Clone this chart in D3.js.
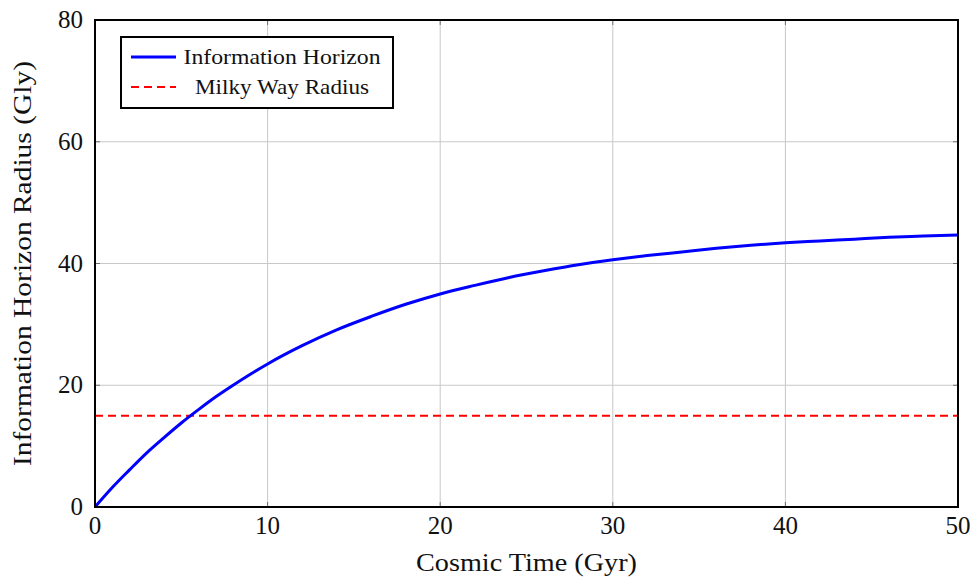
<!DOCTYPE html>
<html>
<head>
<meta charset="utf-8">
<script src="https://cdn.jsdelivr.net/npm/d3@7"></script>
<style>
  body { margin: 0; background: #fff; }
  text { font-family: "Liberation Serif", "DejaVu Serif", serif; fill: #111; }
</style>
</head>
<body>
<div id="chart"></div>
<script>
var width = 971, height = 578;
var margin = { top: 20, right: 13, bottom: 71, left: 95 };

// data
var timeGyr = [0, 1, 2, 3, 4, 5, 6, 7, 8, 9, 10, 12, 14, 16, 18, 20, 22, 24, 26, 28, 30, 32, 34, 36, 38, 40, 42, 44, 46, 48, 50];
var horizonGly = [0, 3.2, 6.1, 8.9, 11.4, 13.8, 16.0, 18.1, 20.0, 21.8, 23.5, 26.5, 29.1, 31.3, 33.3, 35.0, 36.4, 37.7, 38.8, 39.8, 40.6, 41.3, 41.9, 42.5, 43.0, 43.4, 43.7, 44.0, 44.3, 44.5, 44.7];
var milkyWayGly = 15;
var xTicks = [0, 10, 20, 30, 40, 50];
var yTicks = [0, 20, 40, 60, 80];
var legendLabels = ["Information Horizon", "Milky Way Radius"];
var legendWidths = [197, 174];

var w = width - margin.left - margin.right;
var h = height - margin.top - margin.bottom;

var svg = d3.select("#chart").append("svg")
  .attr("width", width)
  .attr("height", height);

var g = svg.append("g")
  .attr("transform", "translate(" + margin.left + "," + margin.top + ")");

var x = d3.scaleLinear().domain([0, 50]).range([0, w]);
var y = d3.scaleLinear().domain([0, 80]).range([h, 0]);

// grid
g.append("g").selectAll("line").data(xTicks).enter().append("line")
  .attr("x1", function(d) { return x(d); })
  .attr("x2", function(d) { return x(d); })
  .attr("y1", 0).attr("y2", h)
  .attr("stroke", "#c8c8c8").attr("stroke-width", 1);
g.append("g").selectAll("line").data(yTicks).enter().append("line")
  .attr("y1", function(d) { return y(d); })
  .attr("y2", function(d) { return y(d); })
  .attr("x1", 0).attr("x2", w)
  .attr("stroke", "#c8c8c8").attr("stroke-width", 1);

// inward ticks on all sides
var tk = 5;
var ticks = g.append("g").attr("stroke", "#707070").attr("stroke-width", 1);
xTicks.forEach(function(d) {
  ticks.append("line").attr("x1", x(d)).attr("x2", x(d)).attr("y1", h).attr("y2", h - tk);
  ticks.append("line").attr("x1", x(d)).attr("x2", x(d)).attr("y1", 0).attr("y2", tk);
});
yTicks.forEach(function(d) {
  ticks.append("line").attr("y1", y(d)).attr("y2", y(d)).attr("x1", 0).attr("x2", tk);
  ticks.append("line").attr("y1", y(d)).attr("y2", y(d)).attr("x1", w).attr("x2", w - tk);
});

// milky way line
g.append("line")
  .attr("x1", x(0)).attr("x2", x(50))
  .attr("y1", y(milkyWayGly)).attr("y2", y(milkyWayGly))
  .attr("stroke", "#ff0000").attr("stroke-width", 2)
  .attr("stroke-dasharray", "8,5");

// horizon curve
var line = d3.line()
  .x(function(d, i) { return x(timeGyr[i]); })
  .y(function(d) { return y(d); })
  .curve(d3.curveMonotoneX);

g.append("path")
  .datum(horizonGly)
  .attr("d", line)
  .attr("fill", "none")
  .attr("stroke", "#0000ff")
  .attr("stroke-width", 3);

// frame
g.append("rect")
  .attr("width", w).attr("height", h)
  .attr("fill", "none").attr("stroke", "#000").attr("stroke-width", 2);

// tick labels
g.append("g").selectAll("text").data(xTicks).enter().append("text")
  .attr("x", function(d) { return x(d); })
  .attr("y", h + 27)
  .attr("text-anchor", "middle")
  .attr("font-size", 25)
  .text(function(d) { return d; });
g.append("g").selectAll("text").data(yTicks).enter().append("text")
  .attr("x", -12)
  .attr("y", function(d) { return y(d) + 8; })
  .attr("text-anchor", "end")
  .attr("font-size", 25)
  .text(function(d) { return d; });

// axis titles
svg.append("text")
  .attr("x", margin.left + w / 2)
  .attr("y", 571)
  .attr("text-anchor", "middle")
  .attr("font-size", 26)
  .attr("textLength", 221)
  .attr("lengthAdjust", "spacingAndGlyphs")
  .text("Cosmic Time (Gyr)");
svg.append("text")
  .attr("transform", "translate(31," + (margin.top + h / 2) + ") rotate(-90)")
  .attr("text-anchor", "middle")
  .attr("font-size", 26)
  .attr("textLength", 405)
  .attr("lengthAdjust", "spacingAndGlyphs")
  .text("Information Horizon Radius (Gly)");

// legend
var lg = svg.append("g").attr("transform", "translate(121,37)");
lg.append("rect")
  .attr("width", 272).attr("height", 71)
  .attr("fill", "#fff").attr("stroke", "#000").attr("stroke-width", 2);
lg.append("line").attr("x1", 10).attr("x2", 55).attr("y1", 20).attr("y2", 20)
  .attr("stroke", "#0000ff").attr("stroke-width", 3);
lg.append("line").attr("x1", 10).attr("x2", 55).attr("y1", 50).attr("y2", 50)
  .attr("stroke", "#ff0000").attr("stroke-width", 2).attr("stroke-dasharray", "8,5");
lg.selectAll("text.lab").data(legendLabels).enter().append("text")
  .attr("class", "lab")
  .attr("x", 161)
  .attr("y", function(d, i) { return 27 + i * 30; })
  .attr("text-anchor", "middle")
  .attr("font-size", 21)
  .attr("textLength", function(d, i) { return legendWidths[i]; })
  .attr("lengthAdjust", "spacingAndGlyphs")
  .text(function(d) { return d; });
</script>
</body>
</html>
